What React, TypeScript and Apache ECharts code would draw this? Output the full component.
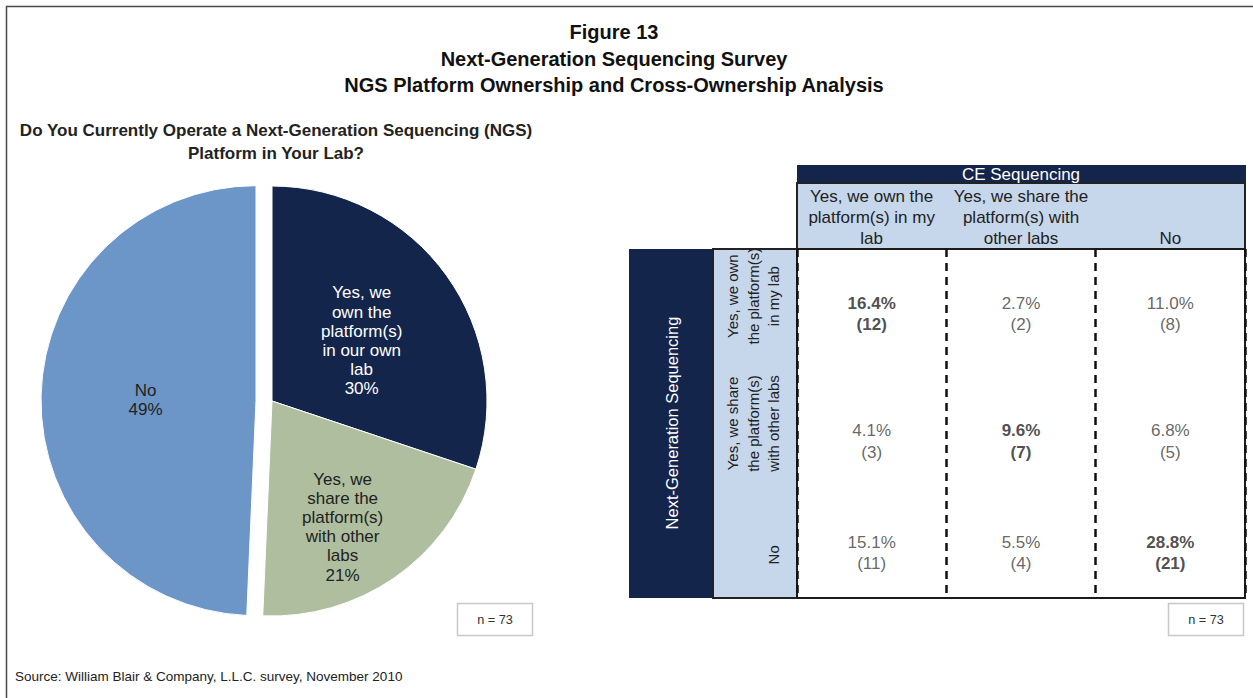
import React, { useEffect, useRef } from "react";
import * as echarts from "echarts";

const pieNames = [
  "Yes, we\nown the\nplatform(s)\nin our own\nlab",
  "Yes, we\nshare the\nplatform(s)\nwith other\nlabs",
  "No",
];
const pieCounts = [22, 15, 36];
const pieColors = ["#14254b", "#aebe9f", "#6c96c8"];
const pieLabelColors = ["#ffffff", "#222222", "#222222"];

const ceCols = [
  "Yes, we own the\nplatform(s) in my\nlab",
  "Yes, we share the\nplatform(s) with\nother labs",
  "No",
];
const ngsRows = [
  "Yes, we own\nthe platform(s)\nin my lab",
  "Yes, we share\nthe platform(s)\nwith other labs",
  "No",
];
const crossPct = [
  [16.4, 2.7, 11.0],
  [4.1, 9.6, 6.8],
  [15.1, 5.5, 28.8],
];
const crossCount = [
  [12, 2, 8],
  [3, 7, 5],
  [11, 4, 21],
];
const sampleNote = "n = 73";
const titleLines = [
  "Figure 13",
  "Next-Generation Sequencing Survey",
  "NGS Platform Ownership and Cross-Ownership Analysis",
];
const pieTitle = "Do You Currently Operate a Next-Generation Sequencing (NGS)\nPlatform in Your Lab?";
const sourceText = "Source: William Blair & Company, L.L.C. survey, November 2010";

const FONT = "'Liberation Sans', Arial, Helvetica, sans-serif";
const NAVY = "#14254b";
const LIGHT = "#c6d6eb";
const cellDy = [7, 18, 13];
const rowRich = ["r0", "r1", "r2"];
const pieLabelShift = [
  [0, 4.5],
  [8, 35],
  [0, 2],
];

export default function App() {
  const ref = useRef<HTMLDivElement>(null);
  useEffect(() => {
    if (!ref.current) return;
    const chart = echarts.init(ref.current, undefined, { renderer: "svg" });
    const cells: any[] = [];
    crossPct.forEach((row, r) =>
      row.forEach((v, c) => {
        cells.push({
          value: [c, r, v, crossCount[r][c]],
          label: { offset: [0, cellDy[r]] },
        });
      })
    );
    const rowStyle = { fontSize: 15, lineHeight: 20.5, color: "#222", fontFamily: FONT };
    const option: any = {
      animation: false,
      textStyle: { fontFamily: FONT },
      grid: {
        left: 797,
        top: 249,
        width: 448,
        height: 349,
        show: true,
        borderColor: "#1b1b1b",
        borderWidth: 2,
        backgroundColor: "#ffffff",
        containLabel: false,
      },
      xAxis: {
        type: "category",
        data: ceCols,
        position: "top",
        axisLine: { show: false },
        axisTick: { show: false },
        splitLine: { show: true, lineStyle: { color: "#111", width: 2.5, type: [8, 6] } },
        axisLabel: { interval: 0, margin: 0, fontSize: 17, lineHeight: 21, color: "#222", fontFamily: FONT },
      },
      yAxis: {
        type: "category",
        data: ngsRows,
        inverse: true,
        axisLine: { show: false },
        axisTick: { show: false },
        splitLine: { show: false },
        axisLabel: {
          interval: 0,
          rotate: 90,
          margin: 13,
          ...rowStyle,
          formatter: (v: string, i: number) =>
            v
              .split("\n")
              .map((l) => `{${rowRich[i]}|${l}}`)
              .join("\n"),
          rich: {
            r0: { ...rowStyle, padding: [0, 0, 0, 22] },
            r1: { ...rowStyle },
            r2: { ...rowStyle, padding: [0, 30, 0, 0] },
          },
        },
      },
      series: [
        {
          type: "pie",
          center: [272, 401],
          radius: 215,
          startAngle: 90,
          clockwise: true,
          selectedMode: "single",
          selectedOffset: 16,
          percentPrecision: 0,
          avoidLabelOverlap: false,
          emphasis: { disabled: true },
          itemStyle: { borderColor: "#ffffff", borderWidth: 1 },
          label: {
            show: true,
            position: "inside",
            formatter: "{b}\n{d}%",
            fontSize: 17,
            lineHeight: 19.2,
            fontFamily: FONT,
          },
          labelLine: { show: false },
          labelLayout: (p: any) => ({ dx: pieLabelShift[p.dataIndex][0], dy: pieLabelShift[p.dataIndex][1] }),
          data: pieNames.map((n, i) => ({
            name: n,
            value: pieCounts[i],
            selected: i === 2,
            itemStyle: { color: pieColors[i] },
            label: { color: pieLabelColors[i] },
          })),
        },
        {
          type: "scatter",
          xAxisIndex: 0,
          yAxisIndex: 0,
          symbolSize: 1,
          itemStyle: { color: "rgba(0,0,0,0)" },
          silent: true,
          data: cells,
          label: {
            show: true,
            position: "inside",
            formatter: (p: any) => {
              const [c, r, v, n] = p.value;
              const k = c === r ? "b" : "n";
              return `{${k}|${v.toFixed(1)}%}\n{${k}|(${n})}`;
            },
            rich: {
              b: { fontSize: 17, lineHeight: 21.5, fontWeight: "bold", color: "#222", fontFamily: FONT },
              n: { fontSize: 17, lineHeight: 21.5, color: "#404040", fontFamily: FONT },
            },
          },
        },
      ],
      graphic: [
        {
          type: "rect",
          z: -10,
          shape: { x: 6.5, y: 6.5, width: 1400, height: 900 },
          style: { fill: "none", stroke: "#4a4a4a", lineWidth: 1.5 },
        },
        ...titleLines.map((t, i) => ({
          type: "text",
          x: 614,
          y: 32 + i * 26.5,
          style: {
            text: t,
            fontSize: 20,
            fontWeight: "bold",
            fontFamily: FONT,
            fill: "#111",
            align: "center",
            verticalAlign: "middle",
          },
        })),
        {
          type: "text",
          x: 276,
          y: 141.5,
          style: {
            text: pieTitle,
            fontSize: 17,
            lineHeight: 23,
            fontWeight: "bold",
            fontFamily: FONT,
            fill: "#222",
            align: "center",
            verticalAlign: "middle",
          },
        },
        // CE Sequencing header bar
        { type: "rect", z: -10, shape: { x: 797, y: 165, width: 449, height: 18 }, style: { fill: NAVY } },
        {
          type: "text",
          z: 100,
          x: 1021,
          y: 174.5,
          style: { text: "CE Sequencing", fontSize: 17, fontFamily: FONT, fill: "#fff", align: "center", verticalAlign: "middle" },
        },
        {
          type: "rect",
          z: -10,
          shape: { x: 797, y: 183, width: 448, height: 66 },
          style: { fill: LIGHT, stroke: "#222", lineWidth: 2 },
        },
        // Next-Generation Sequencing row header
        { type: "rect", z: -10, shape: { x: 629, y: 249, width: 84, height: 349 }, style: { fill: NAVY } },
        {
          type: "text",
          z: 100,
          x: 672,
          y: 423,
          rotation: Math.PI / 2,
          style: {
            text: "Next-Generation Sequencing",
            fontSize: 16.5,
            fontFamily: FONT,
            fill: "#fff",
            align: "center",
            verticalAlign: "middle",
          },
        },
        {
          type: "rect",
          z: -10,
          shape: { x: 713, y: 249, width: 84, height: 349 },
          style: { fill: LIGHT, stroke: "#222", lineWidth: 2 },
        },
        // n boxes
        {
          type: "rect",
          shape: { x: 457.5, y: 603.5, width: 75, height: 32 },
          style: { fill: "#fff", stroke: "#c8c8c8", lineWidth: 1.5 },
        },
        {
          type: "text",
          x: 495,
          y: 620,
          style: { text: sampleNote, fontSize: 12.7, fontFamily: FONT, fill: "#333", align: "center", verticalAlign: "middle" },
        },
        {
          type: "rect",
          shape: { x: 1168.5, y: 603.5, width: 75, height: 32 },
          style: { fill: "#fff", stroke: "#c8c8c8", lineWidth: 1.5 },
        },
        {
          type: "text",
          x: 1206,
          y: 620,
          style: { text: sampleNote, fontSize: 12.7, fontFamily: FONT, fill: "#333", align: "center", verticalAlign: "middle" },
        },
        {
          type: "text",
          x: 15,
          y: 676,
          style: { text: sourceText, fontSize: 13.5, fontFamily: FONT, fill: "#222", align: "left", verticalAlign: "middle" },
        },
      ],
    };
    chart.setOption(option);
    return () => chart.dispose();
  }, []);
  return (
    <div
      ref={ref}
      style={{ position: "fixed", left: 0, top: 0, width: 1253, height: 698, background: "#fff" }}
    />
  );
}
